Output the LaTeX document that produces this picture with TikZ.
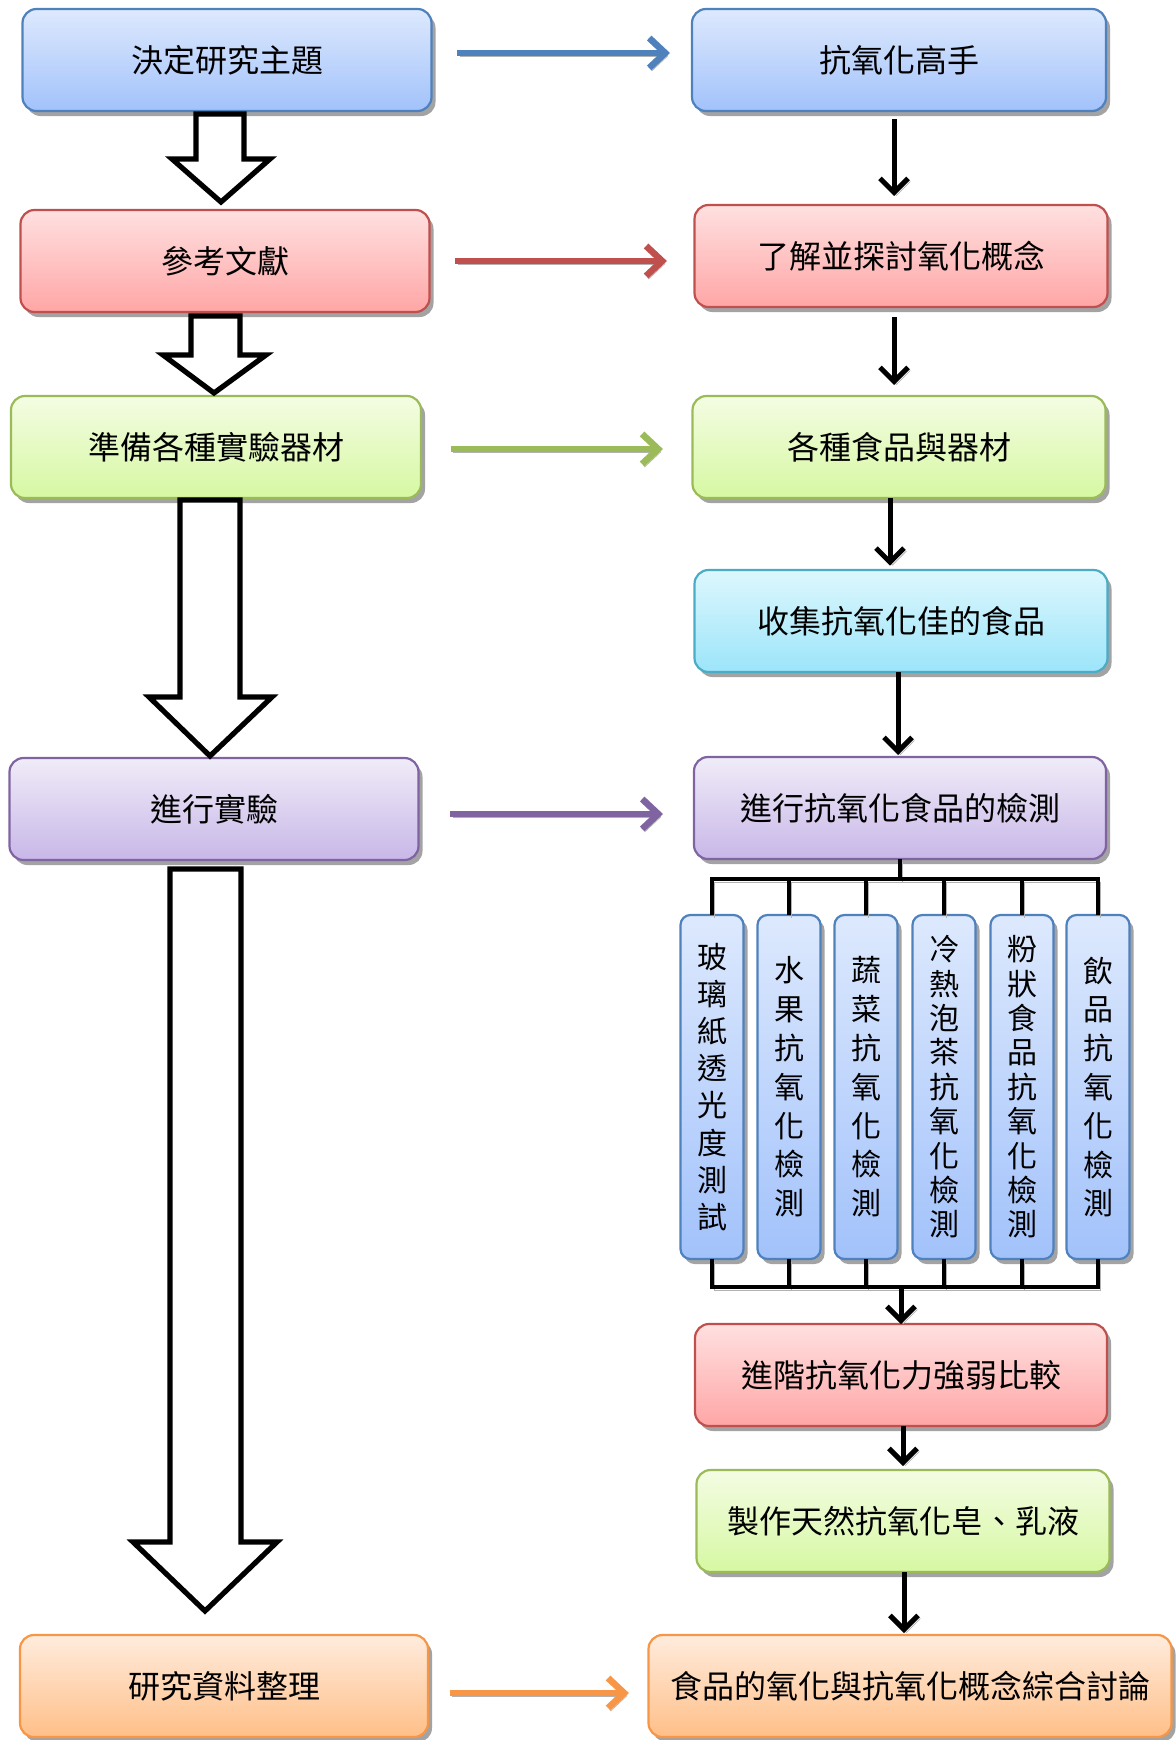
\documentclass[tikz,border=0pt]{standalone}
\usepackage{fontspec}
\newfontfamily\cjk{Noto Sans CJK TC}
\usetikzlibrary{shadows,arrows.meta,calc}
\definecolor{bB}{HTML}{4F81BD}
\definecolor{bR}{HTML}{C0504D}
\definecolor{bG}{HTML}{9BBB59}
\definecolor{bC}{HTML}{4BACC6}
\definecolor{bP}{HTML}{8064A2}
\definecolor{bO}{HTML}{F79646}
\definecolor{tB}{HTML}{DDE9FD}\definecolor{uB}{HTML}{A2C2FB}
\definecolor{tR}{HTML}{FFE0E0}\definecolor{uR}{HTML}{FFA6A6}
\definecolor{tG}{HTML}{F4FCE3}\definecolor{uG}{HTML}{D6F8A2}
\definecolor{tC}{HTML}{DDF7FD}\definecolor{uC}{HTML}{9CE5FA}
\definecolor{tP}{HTML}{F0ECF8}\definecolor{uP}{HTML}{C8B7E8}
\definecolor{tO}{HTML}{FFECDD}\definecolor{uO}{HTML}{FFBF88}
\begin{document}
\begin{tikzpicture}[x=0.5pt,y=-0.5pt,
  box/.style 2 args={rounded corners=7pt, draw, line width=1.1pt,
    minimum width=#1*0.5pt, minimum height=#2*0.5pt, inner sep=0pt, outer sep=0pt,
    font=\cjk\fontsize{16}{19}\selectfont, text=black,
    drop shadow={shadow xshift=2pt, shadow yshift=-2.5pt, fill=black!40, opacity=0.9}},
  blueb/.style={draw=bB, top color=tB, bottom color=uB},
  redb/.style={draw=bR, top color=tR, bottom color=uR},
  greenb/.style={draw=bG, top color=tG, bottom color=uG},
  cyanb/.style={draw=bC, top color=tC, bottom color=uC},
  purpb/.style={draw=bP, top color=tP, bottom color=uP},
  orangeb/.style={draw=bO, top color=tO, bottom color=uO},
  vbox/.style={box={63}{344}, blueb, rounded corners=5pt, align=center,
    font=\cjk\fontsize{15}{#1}\selectfont},
  lshadow/.style={preaction={draw=black!30, transform canvas={shift={(1.2pt,-1.5pt)}}}},
  carrow/.style={lshadow, draw=#1, line width=3.3pt, -{Straight Barb[length=8pt,width=15pt]}},
  barrow/.style={lshadow, draw=black, line width=2.5pt, -{Straight Barb[length=7pt,width=14pt]}},
  tree/.style={lshadow, draw=black, line width=2.3pt},
  blk/.style={draw=black, fill=white, line width=2.6pt, line join=miter}
]
\useasboundingbox (0,0) rectangle (1176,1740);
% left column
\node[box={409}{102}, blueb] (L1) at (227,60) {決定研究主題};
\node[box={409}{102}, redb] (L2) at (225,261) {參考文獻};
\node[box={410}{102}, greenb] (L3) at (216,447) {準備各種實驗器材};
\node[box={409}{102}, purpb] (L4) at (214,809) {進行實驗};
\node[box={408}{102}, orangeb] (L5) at (224,1686) {研究資料整理};
% right column
\node[box={414}{102}, blueb] (R1) at (899,60) {抗氧化高手};
\node[box={413}{102}, redb] (R2) at (901,256) {了解並探討氧化概念};
\node[box={413}{102}, greenb] (R3) at (899,447) {各種食品與器材};
\node[box={413}{102}, cyanb] (R4) at (901,621) {收集抗氧化佳的食品};
\node[box={412}{102}, purpb] (R5) at (900,808) {進行抗氧化食品的檢測};
\node[box={412}{102}, redb] (R6) at (901,1375) {進階抗氧化力強弱比較};
\node[box={413}{102}, greenb] (R7) at (903,1521) {製作天然抗氧化皂、乳液};
\node[box={523}{102}, orangeb] (R8) at (910,1686) {食品的氧化與抗氧化概念綜合討論};
% vertical boxes
\node[vbox=18.6] (V1) at (712,1087) {玻\\璃\\紙\\透\\光\\度\\測\\試};
\node[vbox=19.4] (V2) at (789,1087) {水\\果\\抗\\氧\\化\\檢\\測};
\node[vbox=19.4] (V3) at (866,1087) {蔬\\菜\\抗\\氧\\化\\檢\\測};
\node[vbox=17.2] (V4) at (944,1087) {冷\\熱\\泡\\茶\\抗\\氧\\化\\檢\\測};
\node[vbox=17.2] (V5) at (1022,1087) {粉\\狀\\食\\品\\抗\\氧\\化\\檢\\測};
\node[vbox=19.4] (V6) at (1098,1087) {飲\\品\\抗\\氧\\化\\檢\\測};
% block arrows
\draw[blk] (196,114) -- (244,114) -- (244,159) -- (270,159) -- (221,202) -- (172,159) -- (196,159) -- cycle;
\draw[blk] (191,316) -- (240,316) -- (240,355) -- (266,355) -- (214,393) -- (163,355) -- (191,355) -- cycle;
\draw[blk] (180,500) -- (240,500) -- (240,697) -- (272,697) -- (210,756) -- (149,697) -- (180,697) -- cycle;
\draw[blk] (170,869) -- (241,869) -- (241,1542) -- (277,1542) -- (205,1611) -- (133,1542) -- (170,1542) -- cycle;
% coloured arrows
\draw[carrow=bB, shorten <=12.8pt, shorten >=11pt] ($(L1.east)+(0,-7)$) -- ($(L1.east -| R1.west)+(0,-7)$);
\draw[carrow=bR, shorten <=12.8pt, shorten >=13.8pt] (L2.east) -- (L2.east -| R2.west);
\draw[carrow=bG, shorten <=15pt, shorten >=14.8pt] ($(L3.east)+(0,2)$) -- ($(L3.east -| R3.west)+(0,2)$);
\draw[carrow=bP, shorten <=15.8pt, shorten >=15.5pt] ($(L4.east)+(0,5)$) -- ($(L4.east -| R5.west)+(0,5)$);
\draw[carrow=bO, shorten <=11pt, shorten >=9.8pt] ($(L5.east)+(0,7)$) -- ($(L5.east -| R8.west)+(0,7)$);
% black arrows
\draw[barrow, shorten <=4pt, shorten >=4.5pt] ($(R1.south)+(-5,0)$) -- ($(R1.south |- R2.north)+(-5,0)$);
\draw[barrow, shorten <=5pt, shorten >=5.5pt] ($(R2.south)+(-7,0)$) -- ($(R2.south |- R3.north)+(-7,0)$);
\draw[barrow, shorten >=2.2pt] ($(R3.south)+(-9,0)$) -- ($(R3.south |- R4.north)+(-9,0)$);
\draw[barrow, shorten >=1pt] ($(R4.south)+(-3,0)$) -- ($(R4.south |- R5.north)+(-3,0)$);
\draw[barrow, shorten >=2pt] ($(R6.south)+(2,0)$) -- ($(R6.south |- R7.north)+(2,0)$);
\draw[barrow, shorten >=1pt] ($(R7.south)+(1,0)$) -- ($(R7.south |- R8.north)+(1,0)$);
% tree
\coordinate (tl) at ($(R5.south)+(0,20)$);
\coordinate (bl) at ($(V1.south)+(0,28)$);
\draw[tree] (R5.south) -- (tl) (V1.north) |- (tl) -| (V6.north)
  (V2.north) -- (V2.north |- tl) (V3.north) -- (V3.north |- tl)
  (V4.north) -- (V4.north |- tl) (V5.north) -- (V5.north |- tl);
\draw[tree] (V1.south) |- (bl) -| (V6.south)
  (V2.south) -- (V2.south |- bl) (V3.south) -- (V3.south |- bl)
  (V4.south) -- (V4.south |- bl) (V5.south) -- (V5.south |- bl);
\draw[barrow] (R6.north |- bl) -- (R6.north);
\end{tikzpicture}
\end{document}
